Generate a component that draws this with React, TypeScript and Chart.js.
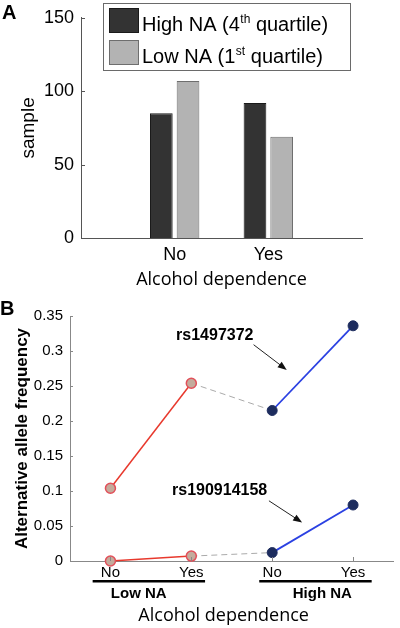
import React, { useEffect, useRef } from 'react';
import { Chart, registerables } from 'chart.js';

Chart.register(...registerables);

// ---------- Panel A data ----------
const adCategories = ['No', 'Yes'];
const highNASamples = [85, 92];
const lowNASamples = [107, 69];
const sampleTicks = [0, 50, 100, 150];
const legendMain = ['High NA (4', 'Low NA (1'];
const legendSup = ['th', 'st'];
const legendTail = [' quartile)', ' quartile)'];

// ---------- Panel B data ----------
const bTickLabels = ['No', 'Yes', 'No', 'Yes'];
const groupNames = ['Low NA', 'High NA'];
const snpNames = ['rs1497372', 'rs190914158'];
const rs1497372 = [0.104, 0.254, 0.215, 0.336];
const rs190914158 = [0, 0.007, 0.012, 0.08];
const freqTicks = [0, 0.05, 0.1, 0.15, 0.2, 0.25, 0.3, 0.35];

const SANS = '"Liberation Sans", Arial, Helvetica, sans-serif';
const HUMAN = '"Open Sans", "Noto Sans", sans-serif';

const seg = (vals: number[], idx: number[]) => vals.map((v, i) => (idx.includes(i) ? v : null));

export default function App() {
  const refA = useRef<HTMLCanvasElement>(null);
  const refB = useRef<HTMLCanvasElement>(null);

  useEffect(() => {
    // ---------------- Panel A ----------------
    const pluginA = {
      id: 'panelA',
      afterDraw(chart: any) {
        const { ctx, chartArea } = chart;
        const y = chart.scales.y;
        ctx.save();
        ctx.strokeStyle = '#555';
        ctx.lineWidth = 1;
        sampleTicks.forEach((v) => {
          const py = Math.round(y.getPixelForValue(v)) + 0.5;
          ctx.beginPath();
          ctx.moveTo(chartArea.left, py);
          ctx.lineTo(chartArea.left + 4, py);
          ctx.stroke();
        });
        // legend box
        ctx.fillStyle = '#fff';
        ctx.fillRect(103.5, 3.5, 247, 67);
        ctx.strokeStyle = '#6a6a6a';
        ctx.strokeRect(103.5, 3.5, 247, 67);
        const sw = [
          { fill: '#333333', stroke: '#1a1a1a' },
          { fill: '#b3b3b3', stroke: '#6e6e6e' },
        ];
        legendMain.forEach((t, i) => {
          const top = 8 + i * 32;
          ctx.fillStyle = sw[i].fill;
          ctx.fillRect(109.5, top + 0.5, 29, 24);
          ctx.strokeStyle = sw[i].stroke;
          ctx.strokeRect(109.5, top + 0.5, 29, 24);
          const base = 31 + i * 32;
          ctx.fillStyle = '#000';
          ctx.textBaseline = 'alphabetic';
          ctx.textAlign = 'left';
          ctx.font = `20px ${SANS}`;
          let x = 142;
          ctx.fillText(t, x, base);
          x += ctx.measureText(t).width;
          ctx.font = `12px ${SANS}`;
          ctx.fillText(legendSup[i], x + 0.5, base - 8);
          x += ctx.measureText(legendSup[i]).width + 0.5;
          ctx.font = `20px ${SANS}`;
          ctx.fillText(legendTail[i], x, base);
        });
        ctx.restore();
      },
    };

    const chartA = new Chart(refA.current as HTMLCanvasElement, {
      type: 'bar',
      data: {
        labels: ['', ...adCategories, ''],
        datasets: [
          {
            label: 'High NA (4th quartile)',
            data: [null, ...highNASamples, null],
            backgroundColor: '#333333',
            borderColor: '#1a1a1a',
            borderWidth: 1,
            categoryPercentage: 0.57,
            barPercentage: 0.85,
          },
          {
            label: 'Low NA (1st quartile)',
            data: [null, ...lowNASamples, null],
            backgroundColor: '#b3b3b3',
            borderColor: '#6e6e6e',
            borderWidth: 1,
            categoryPercentage: 0.57,
            barPercentage: 0.85,
          },
        ],
      },
      options: {
        responsive: false,
        animation: false,
        layout: { padding: { top: 15, right: 38, left: 0, bottom: 0 } },
        plugins: { legend: { display: false }, tooltip: { enabled: false } },
        scales: {
          x: {
            offset: false,
            grid: { display: false, drawTicks: false },
            border: { display: true, color: '#555', width: 1 },
            ticks: { color: '#000', font: { family: SANS, size: 18 }, padding: 6, autoSkip: false, maxRotation: 0 },
            title: {
              display: true,
              text: 'Alcohol dependence',
              color: '#000',
              font: { family: HUMAN, size: 18 },
              padding: { top: 0, bottom: 9 },
            },
            afterFit: (s: any) => {
              s.height = 62;
            },
          },
          y: {
            min: 0,
            max: 150,
            grid: { display: false, drawTicks: false },
            border: { display: true, color: '#555', width: 1 },
            ticks: { color: '#000', font: { family: SANS, size: 18 }, padding: 7 },
            afterBuildTicks: (s: any) => {
              s.ticks = sampleTicks.map((v) => ({ value: v }));
            },
            title: {
              display: true,
              text: 'sample',
              color: '#000',
              font: { family: SANS, size: 19 },
              padding: { top: 17, bottom: 0 },
            },
            afterFit: (s: any) => {
              s.width = 81;
            },
          },
        },
      },
      plugins: [pluginA],
    } as any);

    // ---------------- Panel B ----------------
    const pluginB = {
      id: 'panelB',
      afterDraw(chart: any) {
        const { ctx, chartArea } = chart;
        const x = chart.scales.x;
        const y = chart.scales.y;
        const X = (i: number) => x.getPixelForValue(i);
        const Y = (v: number) => y.getPixelForValue(v);
        ctx.save();
        ctx.strokeStyle = '#888';
        ctx.lineWidth = 1;
        freqTicks.forEach((v) => {
          const py = Math.round(Y(v)) + 0.5;
          ctx.beginPath();
          ctx.moveTo(chartArea.left, py);
          ctx.lineTo(chartArea.left + 3, py);
          ctx.stroke();
        });
        bTickLabels.forEach((_, i) => {
          const px = Math.round(X(i)) + 0.5;
          ctx.beginPath();
          ctx.moveTo(px, chartArea.bottom);
          ctx.lineTo(px, chartArea.bottom - 4);
          ctx.stroke();
        });

        // SNP annotations with arrows
        const ann = [
          { label: snpNames[0], lx: 1.29, lv: 0.322, ax0: 1.77, av0: 0.309, ax1: 2.18, av1: 0.273 },
          { label: snpNames[1], lx: 1.35, lv: 0.1, ax0: 1.96, av0: 0.086, ax1: 2.37, av1: 0.055 },
        ];
        ann.forEach((a) => {
          ctx.fillStyle = '#000';
          ctx.font = `bold 16px ${SANS}`;
          ctx.textAlign = 'center';
          ctx.textBaseline = 'middle';
          ctx.fillText(a.label, X(a.lx), Y(a.lv));
          const x0 = X(a.ax0), y0 = Y(a.av0), x1 = X(a.ax1), y1 = Y(a.av1);
          const ang = Math.atan2(y1 - y0, x1 - x0);
          const hl = 9, hw = 3.5;
          ctx.strokeStyle = '#222';
          ctx.lineWidth = 1;
          ctx.beginPath();
          ctx.moveTo(x0, y0);
          ctx.lineTo(x1 - Math.cos(ang) * hl * 0.8, y1 - Math.sin(ang) * hl * 0.8);
          ctx.stroke();
          ctx.fillStyle = '#111';
          ctx.beginPath();
          ctx.moveTo(x1, y1);
          ctx.lineTo(x1 - Math.cos(ang) * hl + Math.sin(ang) * hw, y1 - Math.sin(ang) * hl - Math.cos(ang) * hw);
          ctx.lineTo(x1 - Math.cos(ang) * hl - Math.sin(ang) * hw, y1 - Math.sin(ang) * hl + Math.cos(ang) * hw);
          ctx.closePath();
          ctx.fill();
        });

        // group underlines + names
        const groups = [
          { name: groupNames[0], u0: -0.22, u1: 1.17, c: 0.35 },
          { name: groupNames[1], u0: 1.84, u1: 3.23, c: 2.62 },
        ];
        groups.forEach((g) => {
          ctx.fillStyle = '#000';
          ctx.fillRect(X(g.u0), chartArea.bottom + 19, X(g.u1) - X(g.u0), 2.5);
          ctx.font = `bold 15px ${SANS}`;
          ctx.textAlign = 'center';
          ctx.textBaseline = 'middle';
          ctx.fillText(g.name, X(g.c), chartArea.bottom + 33);
        });

        // x axis title
        ctx.font = `18px ${HUMAN}`;
        ctx.fillStyle = '#000';
        ctx.textAlign = 'center';
        ctx.textBaseline = 'middle';
        ctx.fillText('Alcohol dependence', X(1.4), chartArea.bottom + 55);
        ctx.restore();
      },
    };

    const lowStyle = {
      borderColor: '#e8392d',
      borderWidth: 1.5,
      pointRadius: 5,
      pointBackgroundColor: '#c4ab9c',
      pointBorderColor: '#e2505a',
      pointBorderWidth: 1.5,
      clip: false,
    };
    const highStyle = {
      borderColor: '#2b41e2',
      borderWidth: 1.8,
      pointRadius: 5,
      pointBackgroundColor: '#1d2c5e',
      pointBorderColor: '#1d2c5e',
      pointBorderWidth: 1,
      clip: false,
    };
    const bridgeStyle = {
      borderColor: '#aaaaaa',
      borderWidth: 1,
      borderDash: [6, 4],
      pointRadius: 0,
      clip: false,
    };

    const chartB = new Chart(refB.current as HTMLCanvasElement, {
      type: 'line',
      data: {
        labels: bTickLabels,
        datasets: [
          { label: snpNames[0] + ' low', data: seg(rs1497372, [0, 1]), ...lowStyle },
          { label: snpNames[0] + ' high', data: seg(rs1497372, [2, 3]), ...highStyle },
          { label: snpNames[1] + ' low', data: seg(rs190914158, [0, 1]), ...lowStyle },
          { label: snpNames[1] + ' high', data: seg(rs190914158, [2, 3]), ...highStyle },
          { label: snpNames[0] + ' bridge', data: seg(rs1497372, [1, 2]), ...bridgeStyle },
          { label: snpNames[1] + ' bridge', data: seg(rs190914158, [1, 2]), ...bridgeStyle },
        ],
      },
      options: {
        responsive: false,
        animation: false,
        layout: { padding: { top: 11, right: 1, left: 0, bottom: 0 } },
        plugins: { legend: { display: false }, tooltip: { enabled: false } },
        scales: {
          x: {
            offset: true,
            grid: { display: false, drawTicks: false },
            border: { display: true, color: '#888', width: 1 },
            ticks: { color: '#000', font: { family: SANS, size: 15 }, padding: 3, autoSkip: false, maxRotation: 0 },
            afterFit: (s: any) => {
              s.height = 67;
            },
          },
          y: {
            min: 0,
            max: 0.35,
            grid: { display: false, drawTicks: false },
            border: { display: true, color: '#888', width: 1 },
            ticks: {
              color: '#000',
              font: { family: SANS, size: 15 },
              padding: 7,
              callback: (v: any) => String(+Number(v).toFixed(2)),
            },
            afterBuildTicks: (s: any) => {
              s.ticks = freqTicks.map((v) => ({ value: v }));
            },
            title: {
              display: true,
              text: 'Alternative allele frequency',
              color: '#000',
              font: { family: SANS, size: 17, weight: 'bold' },
              padding: { top: 12, bottom: 0 },
            },
            afterFit: (s: any) => {
              s.width = 70;
            },
          },
        },
      },
      plugins: [pluginB],
    } as any);

    return () => {
      chartA.destroy();
      chartB.destroy();
    };
  }, []);

  const letter: React.CSSProperties = {
    position: 'absolute',
    font: `bold 20px ${SANS}`,
    lineHeight: '20px',
    color: '#000',
  };

  return (
    <div style={{ position: 'fixed', left: 0, top: 0, width: 400, height: 628, background: '#fff', overflow: 'hidden' }}>
      <canvas ref={refA} width={400} height={300} style={{ position: 'absolute', left: 0, top: 0 }} />
      <canvas ref={refB} width={400} height={328} style={{ position: 'absolute', left: 0, top: 300 }} />
      <div style={{ ...letter, left: 2, top: 2 }}>A</div>
      <div style={{ ...letter, left: 0, top: 298 }}>B</div>
    </div>
  );
}
